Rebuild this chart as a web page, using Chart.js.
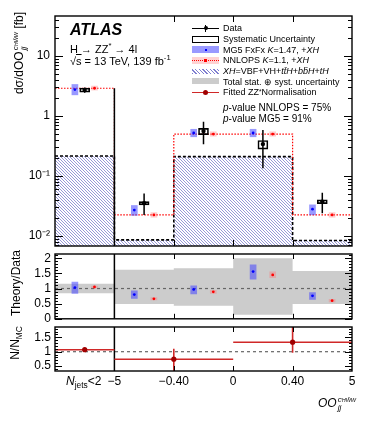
<!DOCTYPE html>
<html>
<head>
<meta charset="utf-8">
<script src="https://cdn.jsdelivr.net/npm/chart.js@4.4.0/dist/chart.umd.min.js"></script>
<style>
  html, body { margin: 0; padding: 0; background: #fff; }
  #wrap { position: relative; width: 374px; height: 421px; overflow: hidden;
          font-family: 'Liberation Sans', Arial, Helvetica, sans-serif; color: #000; }
  canvas { position: absolute; left: 0; }
  .t { position: absolute; white-space: nowrap; line-height: 1; }
  .ytitle { position: absolute; white-space: nowrap; line-height: 1; font-size: 12px;
            transform: translate(-50%, -50%) rotate(-90deg); }
  .ss { display: inline-flex; flex-direction: column; vertical-align: middle;
        font-size: 8px; line-height: 8px; font-style: italic; margin-left: 1px; }
  .s2 { font-size: 5.5px; }
  sup, sub { line-height: 0; font-size: 0.7em; }
  #legend { position: absolute; left: 192px; top: 23px; font-size: 9px; }
  .row { position: relative; height: 10.7px; display: flex; align-items: center; }
  .sym { position: relative; width: 27px; height: 10.7px; margin-right: 4px; flex: none; }
  .sym > div { position: absolute; }
  .pv { position: absolute; left: 223px; font-size: 10px; }
</style>
</head>
<body>
<div id="wrap">
  <canvas id="c1" width="374" height="262" style="top:0"></canvas>
  <canvas id="c2" width="374" height="90" style="top:240px"></canvas>
  <canvas id="c3" width="374" height="106" style="top:315px"></canvas>

  <div class="t" style="left:70px;top:22px;font-size:16px;font-weight:bold;font-style:italic">ATLAS</div>
  <div class="t" style="left:70px;top:44px;font-size:11px">H → ZZ<sup>*</sup> → 4l</div>
  <div class="t" style="left:70px;top:56px;font-size:11px">√<span style="text-decoration:overline">s</span> = 13 TeV, 139 fb<sup>-1</sup></div>

  <div id="legend">
    <div class="row"><div class="sym">
      <div style="left:0;top:4.6px;width:27px;height:1.5px;background:#000"></div>
      <div style="left:12.8px;top:2px;width:1.4px;height:7px;background:#000"></div>
      <div style="left:11.5px;top:3.3px;width:4px;height:4px;border-radius:50%;background:#000"></div>
    </div>Data</div>
    <div class="row"><div class="sym">
      <div style="left:0;top:2px;width:25px;height:5px;border:1px solid #000"></div>
    </div>Systematic Uncertainty</div>
    <div class="row"><div class="sym">
      <div style="left:0;top:2px;width:27px;height:7px;background:rgba(70,70,255,0.55)"></div>
      <div style="left:12.5px;top:4.5px;width:2px;height:2px;background:#0000ff"></div>
    </div>MG5 FxFx&nbsp;<i>K</i>=1.47, +<i>XH</i></div>
    <div class="row"><div class="sym">
      <div style="left:0;top:2px;width:27px;height:7px;background:#ffd2d2"></div>
      <div style="left:0;top:5px;width:27px;height:0;border-top:1px dotted #ff0000"></div>
      <div style="left:12px;top:4px;width:3px;height:3px;background:#ff0000"></div>
    </div>NNLOPS&nbsp;<i>K</i>=1.1, +<i>XH</i></div>
    <div class="row"><div class="sym">
      <div style="left:0;top:3px;width:27px;height:5px;background:repeating-linear-gradient(45deg,#7f7fd0 0 1px,#fff 1px 2.6px)"></div>
    </div><i>XH</i>=VBF+VH+<i>tt̄H</i>+<i>bb̄H</i>+<i>tH</i></div>
    <div class="row"><div class="sym">
      <div style="left:0;top:2px;width:27px;height:6px;background:#cccccc"></div>
    </div>Total stat. ⊕ syst. uncertainty</div>
    <div class="row"><div class="sym">
      <div style="left:0;top:4.6px;width:27px;height:1.6px;background:#d02828"></div>
      <div style="left:11px;top:2.8px;width:5px;height:5px;border-radius:50%;background:#a00000"></div>
    </div>Fitted ZZ<sup>*</sup> Normalisation</div>
  </div>
  <div class="pv" style="top:102px"><i>p</i>-value NNLOPS = 75%</div>
  <div class="pv" style="top:113px"><i>p</i>-value MG5 = 91%</div>

  <div class="ytitle" style="left:20px;top:53px">dσ/dOO<span class="ss"><span>c<span class="s2">HW̃W</span></span><span>jj</span></span> [fb]</div>
  <div class="ytitle" style="left:16px;top:283px">Theory/Data</div>
  <div class="ytitle" style="left:15px;top:343px">N/N<sub>MC</sub></div>

  <div class="t" style="left:66px;top:375px;font-size:12px"><i>N</i><sub>jets</sub>&lt;2</div>
  <div class="t" style="left:318px;top:396px;font-size:12px;font-style:italic">OO<span class="ss"><span>c<span class="s2">HW̃W</span></span><span>jj</span></span></div>
</div>

<script>
Chart.defaults.font.family = "'Liberation Sans', Arial, Helvetica, sans-serif";
Chart.defaults.color = '#000';

// ── values ────────────────────────────────────────────────────
const BIN_EDGES     = [0, 1, 2, 3, 4, 5];
const X_TICK_POS    = [1, 2, 3, 4, 5];
const X_TICK_LABELS = ['−5', '−0.40', '0', '0.40', '5'];

const DATA_VAL = [2.70, 0.0352, 0.56, 0.34, 0.0373];
const DATA_LO  = [2.45, 0.0224, 0.337, 0.134, 0.0239];
const DATA_HI  = [2.98, 0.0510, 0.80, 0.585, 0.0526];
const SYST_LO  = [2.50, 0.0330, 0.49, 0.28, 0.0345];
const SYST_HI  = [2.92, 0.0373, 0.62, 0.39, 0.0400];

const MG5_VAL = [2.75, 0.0270, 0.52, 0.52, 0.0280];
const MG5_LO  = [2.25, 0.0220, 0.45, 0.45, 0.0225];
const MG5_HI  = [3.35, 0.0322, 0.60, 0.60, 0.0330];

const NNLOPS_VAL = [2.90, 0.0224, 0.50, 0.50, 0.0224];
const NNLOPS_LO  = [2.70, 0.0205, 0.46, 0.46, 0.0205];
const NNLOPS_HI  = [3.15, 0.0245, 0.545, 0.545, 0.0245];

const XH_VAL = [0.215, 0.0086, 0.21, 0.21, 0.0084];

const MAIN_YTICKS       = [0.01, 0.1, 1, 10];
const MAIN_YTICK_LABELS = ['10⁻²', '10⁻¹', '1', '10'];

// Theory/Data
const BAND_HI      = [1.16, 1.62, 1.67, 2.00, 1.58];
const BAND_LO      = [0.84, 0.49, 0.43, 0.13, 0.49];
const MG5_RATIO    = [1.03, 0.80, 0.97, 1.56, 0.76];
const MG5_RATIO_LO = [0.84, 0.67, 0.82, 1.31, 0.64];
const MG5_RATIO_HI = [1.21, 0.92, 1.09, 1.78, 0.87];
const NNL_RATIO    = [1.05, 0.66, 0.89, 1.45, 0.60];
const NNL_RATIO_LO = [1.02, 0.62, 0.84, 1.36, 0.56];
const NNL_RATIO_HI = [1.08, 0.70, 0.94, 1.55, 0.64];
const RATIO_YTICKS       = [0, 0.5, 1, 1.5, 2];
const RATIO_YTICK_LABELS = ['0', '0.5', '1', '1.5', '2'];

// N/N_MC (fitted ZZ* normalisation)
const NORM_X   = [0.5, 2, 4];
const NORM_XLO = [0, 1, 3];
const NORM_XHI = [1, 3, 5];
const NORM_VAL = [1.07, 0.74, 1.33];
const NORM_ELO = [1.03, 0.30, 0.96];
const NORM_EHI = [1.11, 1.10, 1.95];
const NORM_YTICKS       = [0.5, 1, 1.5];
const NORM_YTICK_LABELS = ['0.5', '1', '1.5'];

// ── style ─────────────────────────────────────────────────────
const SHIFT = 0.165;          // MG5 left / NNLOPS right of bin centre
const C_MG5_BOX = 'rgba(70,70,255,0.55)';
const C_NNL_BOX = 'rgba(255,110,110,0.35)';
const C_FIT     = '#d02828';
const C_FIT_PT  = '#a00000';
const SEP_X     = BIN_EDGES[1];   // N_jets<2 | rest

const MAIN_Y  = [0.0068, 46.4];
const RATIO_Y = [0, 2.14];
const NORM_Y  = [0.33, 1.857];

const centers = BIN_EDGES.slice(0, -1).map((e, i) => (e + BIN_EDGES[i + 1]) / 2);
const leftX   = centers.map(c => c - SHIFT);
const rightX  = centers.map(c => c + SHIFT);

// histogram outline ('before' = horizontal first, then the vertical edge)
function stepPts(vals) {
  return BIN_EDGES.map((e, i) => ({ x: e, y: vals[Math.min(i, vals.length - 1)] }));
}
function vSegs(xs, lo, hi) {
  const out = [];
  xs.forEach((x, i) => out.push({ x, y: lo[i] }, { x, y: hi[i] }, { x, y: null }));
  return out;
}
function hSegs(x0, x1, v) {
  const out = [];
  v.forEach((y, i) => out.push({ x: x0[i], y }, { x: x1[i], y }, { x: x1[i], y: null }));
  return out;
}
function boxes(xs, lo, hi) { return xs.map((x, i) => ({ x, y: [lo[i], hi[i]] })); }
function pts(xs, v) { return xs.map((x, i) => ({ x, y: v[i] })); }

function line(data, color, width, extra) {
  return Object.assign({ type: 'line', data, borderColor: color, borderWidth: width,
    pointRadius: 0, fill: false, spanGaps: false, order: 5 }, extra || {});
}
function box(data, fill, thick, extra) {
  return Object.assign({ type: 'bar', data, backgroundColor: fill, barThickness: thick,
    grouped: false, borderSkipped: false, borderWidth: 0, order: 2 }, extra || {});
}
function dots(data, color, r) {
  return { type: 'scatter', data, backgroundColor: color, borderWidth: 0,
    pointRadius: r, order: 0 };
}

// ── frame + inward ATLAS ticks ────────────────────────────────
const framePlugin = {
  id: 'frame',
  afterDatasetsDraw(chart, args, o) {
    const { ctx, chartArea: a, scales: { x, y } } = chart;
    ctx.save();
    ctx.strokeStyle = '#000';
    ctx.lineWidth = 1;
    ctx.beginPath();
    const yt = (vals, len) => vals.forEach(v => {
      const p = Math.round(y.getPixelForValue(v)) + 0.5;
      ctx.moveTo(a.left, p); ctx.lineTo(a.left + len, p);
      ctx.moveTo(a.right, p); ctx.lineTo(a.right - len, p);
    });
    yt(o.yMajor, o.majLen);
    yt(o.yMinor, o.minLen);
    o.xTicks.forEach(v => {
      const p = Math.round(x.getPixelForValue(v)) + 0.5;
      ctx.moveTo(p, a.top); ctx.lineTo(p, a.top + o.xLen);
      ctx.moveTo(p, a.bottom); ctx.lineTo(p, a.bottom - o.xLen);
    });
    ctx.stroke();
    ctx.lineWidth = 1.4;
    ctx.strokeRect(a.left, a.top, a.right - a.left, a.bottom - a.top);
    ctx.restore();
  }
};

function minorsBetween(lo, hi, step) {
  const out = [];
  for (let v = lo; v <= hi + 1e-9; v += step) out.push(+v.toFixed(4));
  return out;
}

function opts(pad, yScale, xShow, frame) {
  return {
    responsive: false, animation: false, events: [],
    layout: { padding: pad },
    plugins: { legend: { display: false }, tooltip: { enabled: false }, frame },
    scales: {
      x: {
        type: 'linear', min: 0, max: 5, offset: false, display: xShow,
        grid: { display: false, offset: false, drawTicks: false },
        border: { display: false },
        afterBuildTicks: s => { s.ticks = X_TICK_POS.map(v => ({ value: v })); },
        afterFit: s => { s.height = xShow ? 20 : 0; },
        ticks: { autoSkip: false, maxRotation: 0, padding: 3, font: { size: 12 },
                 callback: (v, i) => X_TICK_LABELS[i] },
      },
      y: yScale,
    },
  };
}

function yAxis(type, range, ticks, labels, pad) {
  return {
    type, min: range[0], max: range[1],
    grid: { display: false, drawTicks: false },
    border: { display: false },
    afterBuildTicks: s => { s.ticks = ticks.map(v => ({ value: v })); },
    afterFit: s => { s.width = 55; },
    ticks: { padding: pad, font: { size: 12 }, autoSkip: false,
             callback: (v, i) => labels[i] },
  };
}

// ── main panel ────────────────────────────────────────────────
const ctx1 = document.getElementById('c1').getContext('2d');
const hc = document.createElement('canvas');
hc.width = 3; hc.height = 3;
const hg = hc.getContext('2d');
hg.strokeStyle = '#8c8cd4'; hg.lineWidth = 0.9;
hg.beginPath();
hg.moveTo(0, 0); hg.lineTo(3, 3);
hg.moveTo(-1, 2); hg.lineTo(1, 4);
hg.moveTo(2, -1); hg.lineTo(4, 1);
hg.stroke();
const HATCH = ctx1.createPattern(hc, 'repeat');

const logMinors = [];
[0.001, 0.01, 0.1, 1, 10].forEach(d => {
  for (let m = 2; m <= 9; m++) {
    const v = m * d;
    if (v > MAIN_Y[0] && v < MAIN_Y[1]) logMinors.push(v);
  }
});

new Chart(ctx1, {
  type: 'line',
  data: {
    datasets: [
      dots(pts(centers, DATA_VAL), '#000', 2.2),
      dots(pts(leftX, MG5_VAL), '#0000ff', 1.4),
      dots(pts(rightX, NNLOPS_VAL), '#ff0000', 1.4),
      box(boxes(centers, SYST_LO, SYST_HI), 'rgba(0,0,0,0)', 10,
          { borderColor: '#000', borderWidth: 1, order: 1 }),
      line(vSegs(centers, DATA_LO, DATA_HI), '#000', 1.5, { order: 1 }),
      box(boxes(leftX, MG5_LO, MG5_HI), C_MG5_BOX, 6),
      box(boxes(rightX, NNLOPS_LO, NNLOPS_HI), C_NNL_BOX, 6),
      line([{ x: SEP_X, y: NNLOPS_VAL[0] }, { x: SEP_X, y: MAIN_Y[0] }], '#000', 1.5, { order: 4 }),
      line(stepPts(NNLOPS_VAL), '#ff0000', 1.2, { stepped: 'before', borderDash: [1.5, 1.5], order: 6 }),
      line(stepPts(XH_VAL), '#000', 1.6, { stepped: 'before', borderDash: [3, 2],
           fill: 'start', backgroundColor: HATCH, order: 9 }),
    ],
  },
  options: opts({ top: 16, bottom: 16, left: 0, right: 22 },
    yAxis('logarithmic', MAIN_Y, MAIN_YTICKS, MAIN_YTICK_LABELS, 5), false,
    { yMajor: MAIN_YTICKS, yMinor: logMinors, majLen: 8, minLen: 4, xTicks: [2, 3, 4], xLen: 6 }),
  plugins: [framePlugin],
});

// ── Theory/Data ───────────────────────────────────────────────
new Chart(document.getElementById('c2'), {
  type: 'line',
  data: {
    datasets: [
      line(stepPts(BAND_HI), 'rgba(0,0,0,0)', 0, { stepped: 'before', fill: '+1',
           backgroundColor: '#cccccc', order: 9 }),
      line(stepPts(BAND_LO), 'rgba(0,0,0,0)', 0, { stepped: 'before', order: 9 }),
      line([{ x: 0, y: 1 }, { x: 5, y: 1 }], '#666', 1.2, { borderDash: [3, 3], order: 6 }),
      line([{ x: SEP_X, y: RATIO_Y[0] }, { x: SEP_X, y: RATIO_Y[1] }], '#000', 1.5, { order: 4 }),
      box(boxes(leftX, MG5_RATIO_LO, MG5_RATIO_HI), C_MG5_BOX, 6),
      box(boxes(rightX, NNL_RATIO_LO, NNL_RATIO_HI), C_NNL_BOX, 6),
      dots(pts(leftX, MG5_RATIO), '#0000ff', 1.4),
      dots(pts(rightX, NNL_RATIO), '#ff0000', 1.4),
    ],
  },
  options: opts({ top: 14, bottom: 11, left: 0, right: 22 },
    yAxis('linear', RATIO_Y, RATIO_YTICKS, RATIO_YTICK_LABELS, 4), false,
    { yMajor: RATIO_YTICKS, yMinor: minorsBetween(0.1, 2.1, 0.1), majLen: 7, minLen: 3, xTicks: [2, 3, 4], xLen: 5 }),
  plugins: [framePlugin],
});

// ── N/N_MC ────────────────────────────────────────────────────
new Chart(document.getElementById('c3'), {
  type: 'line',
  data: {
    datasets: [
      line([{ x: 0, y: 1 }, { x: 5, y: 1 }], '#666', 1.2, { borderDash: [3, 3], order: 6 }),
      line([{ x: SEP_X, y: NORM_Y[0] }, { x: SEP_X, y: NORM_Y[1] }], '#000', 1.5, { order: 4 }),
      line(hSegs(NORM_XLO, NORM_XHI, NORM_VAL), C_FIT, 1.6, { order: 3 }),
      line(vSegs(NORM_X, NORM_ELO, NORM_EHI), C_FIT, 1.6, { order: 3 }),
      dots(pts(NORM_X, NORM_VAL), C_FIT_PT, 2.6),
    ],
  },
  options: opts({ top: 12, bottom: 30, left: 0, right: 22 },
    yAxis('linear', NORM_Y, NORM_YTICKS, NORM_YTICK_LABELS, 4), true,
    { yMajor: NORM_YTICKS, yMinor: minorsBetween(0.4, 1.8, 0.1), majLen: 7, minLen: 3, xTicks: [2, 3, 4], xLen: 5 }),
  plugins: [framePlugin],
});
</script>
</body>
</html>
